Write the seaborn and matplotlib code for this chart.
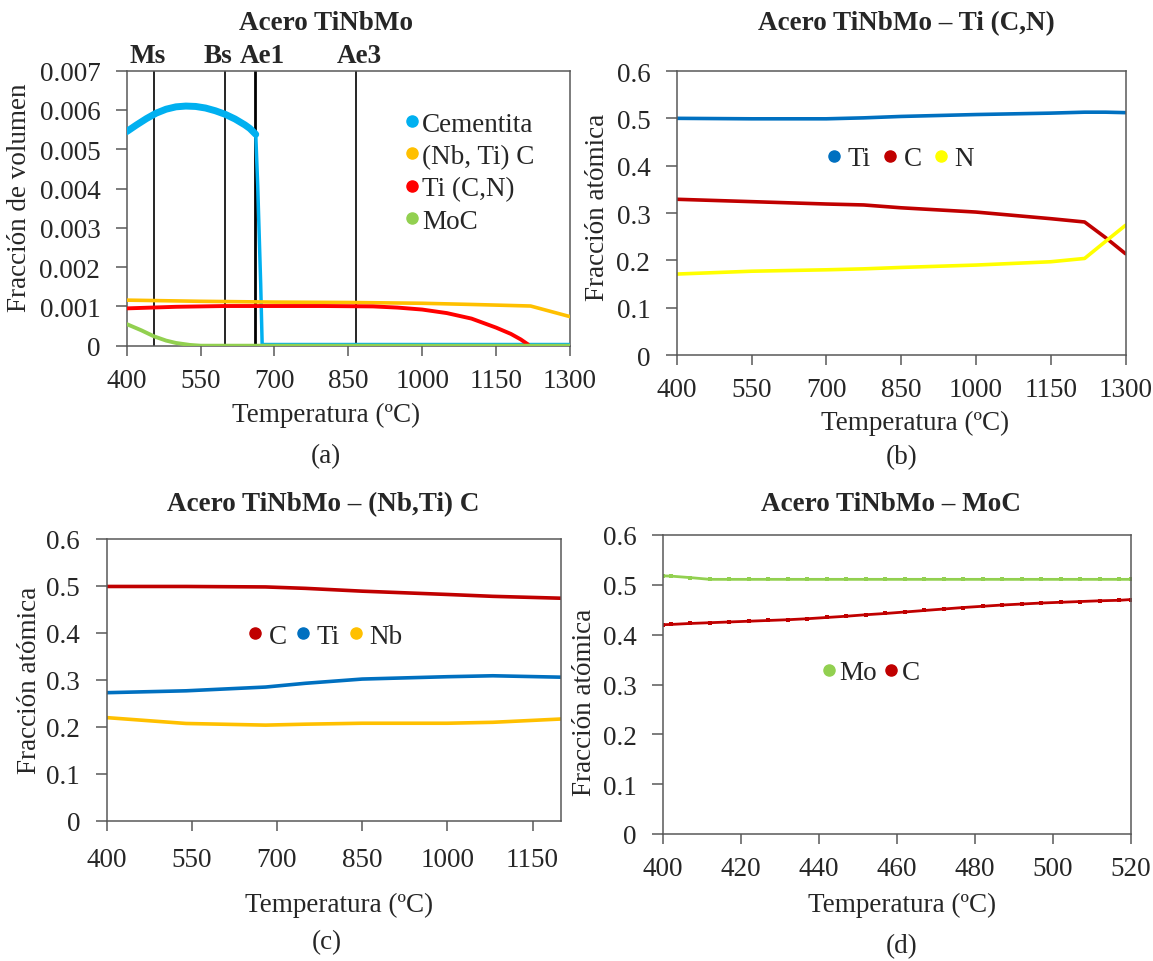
import numpy as np
import pandas as pd
import matplotlib
matplotlib.use("Agg")
import matplotlib.pyplot as plt
from matplotlib.lines import Line2D
import seaborn as sns

# ---------------- data ----------------
# (a) volume fraction (x 1e-3)
cem_T = [400, 420, 440, 460, 480, 500, 520, 540, 560, 580, 600, 620, 640, 650, 662, 666, 672, 675, 700, 850, 1000, 1150, 1300]
cem_V = [5.45, 5.62, 5.78, 5.92, 6.02, 6.08, 6.10, 6.09, 6.05, 5.98, 5.89, 5.77, 5.62, 5.53, 5.38, 4.07, 1.58, 0.03, 0.03, 0.03, 0.03, 0.03, 0.03]
nbti_T = [400, 550, 700, 850, 1000, 1100, 1220, 1300]
nbti_V = [1.16, 1.13, 1.11, 1.10, 1.08, 1.05, 1.01, 0.74]
tic_T = [400, 450, 500, 550, 600, 700, 800, 900, 950, 1000, 1050, 1100, 1150, 1180, 1200, 1215]
tic_V = [0.95, 0.97, 0.99, 1.00, 1.01, 1.01, 1.01, 1.00, 0.97, 0.92, 0.83, 0.69, 0.46, 0.30, 0.16, 0.03]
moc_T = [400, 430, 455, 480, 500, 528, 550, 700, 850, 1000, 1150, 1300]
moc_V = [0.55, 0.39, 0.24, 0.13, 0.07, 0.02, 0.0, 0.0, 0.0, 0.0, 0.0, 0.0]
crit_names = ["Ms", "Bs", "Ae1", "Ae3"]
crit_T = [455, 600, 660, 865]
crit_label_T = [443, 586, 675, 872]

# (b) Ti(C,N) composition
b_T = [400, 550, 700, 775, 850, 1000, 1150, 1218, 1260, 1300]
b_Ti = [0.500, 0.499, 0.499, 0.501, 0.504, 0.508, 0.511, 0.513, 0.513, 0.512]
b_C = [0.329, 0.324, 0.319, 0.317, 0.311, 0.302, 0.288, 0.281, 0.248, 0.214]
b_N = [0.171, 0.177, 0.180, 0.182, 0.185, 0.190, 0.197, 0.204, 0.240, 0.274]

# (c) (Nb,Ti)C composition
c_T = [400, 540, 680, 750, 850, 1000, 1080, 1200]
c_C = [0.499, 0.499, 0.498, 0.495, 0.489, 0.482, 0.478, 0.474]
c_Ti = [0.273, 0.277, 0.285, 0.293, 0.302, 0.307, 0.309, 0.306]
c_Nb = [0.220, 0.2075, 0.204, 0.206, 0.208, 0.208, 0.210, 0.217]

# (d) MoC composition
d_T = [400, 402, 407, 412, 417, 422, 427, 432, 437, 442, 447, 452, 457, 462, 467, 472, 477, 482, 487, 492, 497, 502, 507, 512, 517, 520]
d_Mo = [0.518, 0.5175, 0.5145, 0.511, 0.511, 0.511, 0.511, 0.511, 0.511, 0.511, 0.511, 0.511, 0.511, 0.511, 0.511, 0.511, 0.511, 0.511, 0.511, 0.511, 0.511, 0.511, 0.511, 0.511, 0.511, 0.511]
d_C = [0.420, 0.4205, 0.4225, 0.424, 0.4255, 0.427, 0.4285, 0.430, 0.432, 0.4345, 0.437, 0.440, 0.4425, 0.4455, 0.4485, 0.4515, 0.4545, 0.457, 0.4595, 0.4615, 0.4635, 0.465, 0.4665, 0.468, 0.469, 0.4705]

xt_ab = [400, 550, 700, 850, 1000, 1150, 1300]
xt_c = [400, 550, 700, 850, 1000, 1150]
xt_d = [400, 420, 440, 460, 480, 500, 520]
yt_a = [0, 0.001, 0.002, 0.003, 0.004, 0.005, 0.006, 0.007]
yt_a_lab = ["0", "0.001", "0.002", "0.003", "0.004", "0.005", "0.006", "0.007"]
yt_f = [0, 0.1, 0.2, 0.3, 0.4, 0.5, 0.6]
yt_f_lab = ["0", "0.1", "0.2", "0.3", "0.4", "0.5", "0.6"]

titles = ["Acero TiNbMo", "Acero TiNbMo – Ti (C,N)", "Acero TiNbMo – (Nb,Ti) C", "Acero TiNbMo – MoC"]
captions = ["(a)", "(b)", "(c)", "(d)"]
xlab = "Temperatura (ºC)"
ylab_a = "Fracción de volumen"
ylab_f = "Fracción atómica"

# ---------------- style ----------------
sns.set_style("white")
plt.rcParams["font.family"] = ["Liberation Serif", "DejaVu Serif"]
FS = 19.5
plt.rcParams["font.size"] = FS

W, H = 1153, 962
fig = plt.figure(figsize=(W / 100, H / 100), dpi=100)

def add_ax(l, r, t, b):
    return fig.add_axes([l / W, 1 - b / H, (r - l) / W, (b - t) / H])

SP = "#595959"

def style(ax, xt, yt, ylabs, xlim, ylim, xpad=9):
    ax.set_xlim(*xlim)
    ax.set_ylim(*ylim)
    ax.set_xticks(xt)
    ax.set_xticklabels([str(v) for v in xt])
    ax.set_yticks(yt)
    ax.set_yticklabels(ylabs)
    for s in ax.spines.values():
        s.set_color(SP)
        s.set_linewidth(1.1)
    ax.tick_params(axis="x", bottom=True, direction="out", length=7, width=1.1, color=SP, pad=xpad, labelsize=FS)
    ax.tick_params(axis="y", left=True, direction="out", length=8, width=1.1, color=SP, pad=11, labelsize=FS)
    ax.set_xlabel("")
    ax.set_ylabel("")

def line(ax, x, y, color, lw, **kw):
    df = pd.DataFrame({"x": x, "y": y})
    sns.lineplot(data=df, x="x", y="y", ax=ax, color=color, linewidth=lw,
                 estimator=None, sort=False, legend=False, **kw)

def dot(c, ms=8):
    return Line2D([0], [0], marker="o", linestyle="", color=c, markersize=ms)

# ---------------- (a) ----------------
axa = add_ax(126.7, 570, 71.7, 346.7)
for T in crit_T:
    axa.axvline(T, color="black", lw=2.0 if T == 660 else 1.2, zorder=1)
line(axa, cem_T, np.array(cem_V) * 1e-3, "#00B0F0", 2.5, zorder=3)
line(axa, cem_T[:15], np.array(cem_V[:15]) * 1e-3, "#00B0F0", 5, zorder=3)
line(axa, nbti_T, np.array(nbti_V) * 1e-3, "#FFC000", 2.6, zorder=4)
line(axa, tic_T, np.array(tic_V) * 1e-3, "#FF0000", 2.8, zorder=4)
line(axa, moc_T, np.array(moc_V) * 1e-3, "#92D050", 2.8, zorder=5)
style(axa, xt_ab, yt_a, yt_a_lab, (400, 1300), (0, 0.007))
for n, T in zip(crit_names, crit_label_T):
    axa.text(T, 1.055, n, transform=axa.get_xaxis_transform(), ha="center", va="center",
             fontsize=FS, fontweight="bold")
axa.legend([dot("#00B0F0"), dot("#FFC000"), dot("#FF0000"), dot("#92D050")],
           ["Cementita", "(Nb, Ti) C", "Ti (C,N)", "MoC"],
           loc="upper left", bbox_to_anchor=(392 / W, 1 - 99 / H), bbox_transform=fig.transFigure,
           frameon=False, handlelength=0.5, handletextpad=0.1, labelspacing=0.27, borderpad=0,
           fontsize=FS)

# ---------------- (b) ----------------
axb = add_ax(676.7, 1125.5, 72, 356)
line(axb, b_T, b_Ti, "#0070C0", 2.6)
line(axb, b_T, b_C, "#C00000", 2.6)
line(axb, b_T, b_N, "#FFFF00", 2.6)
style(axb, xt_ab, yt_f, yt_f_lab, (400, 1300), (0, 0.6))
axb.legend([dot("#0070C0"), dot("#C00000"), dot("#FFFF00")], ["Ti", "C", "N"], ncol=3,
           loc="center", bbox_to_anchor=(900 / W, 1 - 160 / H), bbox_transform=fig.transFigure,
           frameon=False, handlelength=0.6, handletextpad=0.2, columnspacing=0.4, borderpad=0,
           fontsize=FS)

# ---------------- (c) ----------------
axc = add_ax(106.5, 561, 540, 822)
line(axc, c_T, c_C, "#C00000", 2.6)
line(axc, c_T, c_Ti, "#0070C0", 2.6)
line(axc, c_T, c_Nb, "#FFC000", 2.6)
style(axc, xt_c, yt_f, yt_f_lab, (400, 1200), (0, 0.6), xpad=12)
axc.legend([dot("#C00000"), dot("#0070C0"), dot("#FFC000")], ["C", "Ti", "Nb"], ncol=3,
           loc="center", bbox_to_anchor=(325 / W, 1 - 637 / H), bbox_transform=fig.transFigure,
           frameon=False, handlelength=0.6, handletextpad=0.2, columnspacing=0.3, borderpad=0,
           fontsize=FS)

# ---------------- (d) ----------------
axd = add_ax(663, 1131, 536, 835)
line(axd, d_T, d_Mo, "#92D050", 2.0, marker="s", markersize=2.5, markeredgewidth=0)
line(axd, d_T, d_C, "#C00000", 2.0, marker="s", markersize=2.5, markeredgewidth=0)
style(axd, xt_d, yt_f, yt_f_lab, (400, 520), (0, 0.6))
axd.legend([dot("#92D050"), dot("#C00000")], ["Mo", "C"], ncol=2,
           loc="center", bbox_to_anchor=(870 / W, 1 - 674 / H), bbox_transform=fig.transFigure,
           frameon=False, handlelength=0.6, handletextpad=0.1, columnspacing=0.2, borderpad=0,
           fontsize=FS)

# ---------------- texts ----------------
title_pos = [(326, 23), (906, 24), (323, 505), (891, 505)]
xlab_pos = [(326, 415), (915, 423), (339, 905), (902, 905)]
cap_pos = [(326, 457), (902, 458), (327, 943), (902, 947)]
ylab_pos = [(20, 198, ylab_a), (598, 207, ylab_f), (30, 680, ylab_f), (584, 702, ylab_f)]
for (x, y), t in zip(title_pos, titles):
    fig.text(x / W, 1 - y / H, t, ha="center", va="center", fontsize=FS, fontweight="bold")
for (x, y) in xlab_pos:
    fig.text(x / W, 1 - y / H, xlab, ha="center", va="center", fontsize=FS)
for (x, y), c in zip(cap_pos, captions):
    fig.text(x / W, 1 - y / H, c, ha="center", va="center", fontsize=FS)
for x, y, t in ylab_pos:
    fig.text(x / W, 1 - y / H, t, ha="center", va="center", rotation=90, fontsize=FS)

fig.savefig("out.png", dpi=100, facecolor="white")
